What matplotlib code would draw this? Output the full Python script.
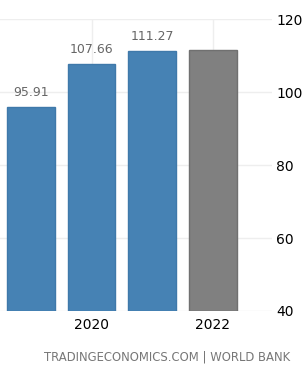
import matplotlib
matplotlib.use("Agg")
import matplotlib.pyplot as plt

years = [2019, 2020, 2021, 2022]
values = [95.91, 107.66, 111.27, 111.5]
labels = ["95.91", "107.66", "111.27", ""]
colors = ["#4682b4", "#4682b4", "#4682b4", "#808080"]
edges = ["#3f79aa", "#3f79aa", "#3f79aa", "#707070"]
yticks = [40, 60, 80, 100, 120]
xticks = [2020, 2022]


def main():
    fig = plt.figure(figsize=(3.03, 3.80), dpi=100)
    ax = fig.add_axes([0.0, 0.1816, 0.898, 0.768])

    bars = ax.bar(years, [v - 40 for v in values], bottom=40, width=0.79,
                  color=colors, edgecolor=edges, linewidth=1, zorder=3)
    for b, v, lab in zip(bars, values, labels):
        if lab:
            ax.annotate(lab, (b.get_x() + b.get_width() / 2, v),
                        xytext=(0, 6), textcoords="offset points",
                        ha="center", va="bottom", fontsize=9, color="#666666")

    ax.set_xlim(2018.49, 2022.98)
    ax.set_ylim(40, 120)
    ax.set_yticks(yticks)
    ax.set_xticks(xticks)
    ax.set_xticklabels([str(x) for x in xticks])
    ax.yaxis.tick_right()
    ax.tick_params(axis="y", length=0, pad=3, labelsize=10)
    ax.tick_params(axis="x", length=0, pad=5, labelsize=10)
    ax.grid(True, color="#eeeeee", linewidth=1, zorder=0)
    for s in ax.spines.values():
        s.set_visible(False)

    fig.text(0.957, 0.06, "TRADINGECONOMICS.COM | WORLD BANK", ha="right",
             va="center", fontsize=8.4, color="#777777")
    fig.savefig("out.png", dpi=100)


if __name__ == '__main__':
    main()
